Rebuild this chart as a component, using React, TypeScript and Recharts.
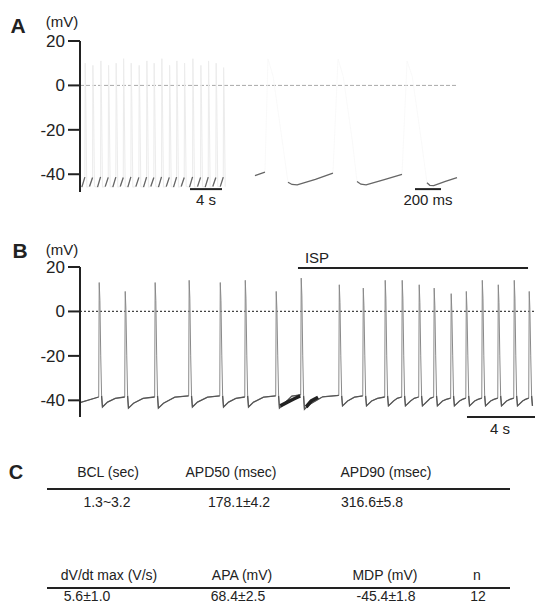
import React from 'react';
import { LineChart, Line, XAxis, YAxis, ReferenceLine } from 'recharts';

const FONT = '"Liberation Sans", Arial, Helvetica, sans-serif';
const Y_TICKS = [-40, -20, 0, 20];

// ---------- Panel A: compressed record (time in s) ----------
const aBeatStart = [0.23, 1.19, 2.19, 3.15, 4.1, 5.03, 5.98, 6.98, 7.94, 8.85, 9.81, 10.78, 11.69, 12.65, 13.69, 14.69, 15.65, 16.6, 17.53];
const aPeak = [10, 9, 11, 9, 10, 12, 10, 9, 11, 10, 12, 9, 11, 10, 12, 9, 11, 10, 8];
const aMdp = [-45.8, -45.5, -45.8, -45.6, -45.8, -45.5, -45.8, -45.6, -45.8, -45.5, -45.8, -45.6, -45.8, -45.5, -45.8, -45.6, -45.8, -45.5, -45.6];
const aTakeoff = [-41.3, -41.5, -41.2, -41.4, -41.3, -41.5, -41.2, -41.4, -41.3, -41.5, -41.2, -41.4, -41.3, -41.5, -41.2, -41.4, -41.3, -41.5, -41.3];
const A_XMAX = 56.875;
const aZeroEnd = 47.1;
const aScaleBar = [13.75, 17.75];

// ---------- Panel A inset: expanded record (time in ms) ----------
const aInsetSpikeT = [215, 754, 1285];
const aInsetPeak = [12, 12, 11];
const aInsetSegs: number[][][] = [
  [[115, -40.6], [192, -39.1]],
  [[369, -43.6], [400, -44.6], [440, -44.8], [580, -42.3], [715, -39.5]],
  [[900, -43.3], [930, -44.5], [970, -44.8], [1110, -42.4], [1246, -40.1]],
  [[1438, -43.8], [1460, -45.0], [1490, -45.1], [1580, -43.2], [1669, -41.5]],
];
const INSET_XMAX = 1769;
const insetScaleBar = [1346, 1546];

// ---------- Panel B (time in s) ----------
const bSpikeT = [1.12, 2.65, 4.41, 6.41, 8.24, 9.71, 11.53, 13.0, 15.24, 16.65, 17.94, 18.94, 19.94, 20.82, 21.82, 22.71, 23.65, 24.59, 25.53, 26.41];
const bPeak = [13, 9, 13, 14, 13, 14, 9, 15, 12, 10.5, 14, 14, 12, 10.5, 8, 9, 14, 12, 14, 9];
const bTrough = [-43, -43.5, -43.5, -43, -43, -43, -43.5, -44, -42.5, -42.5, -42.5, -42.5, -42.5, -42.5, -42.5, -42.5, -42.5, -42.5, -42.5, -42.5];
const bPre = [-38.5, -38.5, -38.5, -38, -38, -38.5, -38, -37.5, -37.8, -38, -38.5, -38.5, -38.5, -38.5, -39, -39, -39, -39, -39, -39];
const bStart = -41;
const bArtifact = [
  { t: 11.78, v: -42.5 }, { t: 12.2, v: -40.8 }, { t: 12.6, v: -39.3 }, { t: 12.95, v: -38 },
  { t: 12.96, v: null },
  { t: 13.3, v: -43 }, { t: 13.6, v: -40.3 }, { t: 14.0, v: -38.6 },
];
const B_XMAX = 26.76;
const ispBar = [12.82, 26.35];
const bScaleBar = [22.76, 26.76];

// ---------- Panel C ----------
const t1Headers = ['BCL (sec)', 'APD50 (msec)', 'APD90 (msec)'];
const t1Values = ['1.3~3.2', '178.1±4.2', '316.6±5.8'];
const t2Headers = ['dV/dt max (V/s)', 'APA (mV)', 'MDP (mV)', 'n'];
const t2Values = ['5.6±1.0', '68.4±2.5', '-45.4±1.8', '12'];

type P = { t: number; v: number | null };

function buildA() {
  const faint: P[] = [];
  const dark: P[] = [];
  aBeatStart.forEach((s, i) => {
    faint.push({ t: s, v: aMdp[i] });
    faint.push({ t: s + 0.38, v: aTakeoff[i] });
    faint.push({ t: s + 0.42, v: aPeak[i] });
    faint.push({ t: s + 0.5, v: -8 });
    faint.push({ t: s + 0.62, v: aMdp[i] });
    dark.push({ t: s, v: aMdp[i] });
    dark.push({ t: s + 0.38, v: aTakeoff[i] });
    dark.push({ t: s + 0.39, v: null });
  });
  return { faint, dark };
}

function buildInset() {
  const faint: P[] = [];
  const dark: P[] = [];
  aInsetSegs.forEach((seg, i) => {
    seg.forEach(([t, v]) => {
      faint.push({ t, v });
      dark.push({ t, v });
    });
    dark.push({ t: seg[seg.length - 1][0] + 1, v: null });
    if (i < aInsetSpikeT.length) {
      const T = aInsetSpikeT[i];
      faint.push({ t: T, v: aInsetPeak[i] });
      faint.push({ t: T + 40, v: 4 });
      faint.push({ t: T + 110, v: -25 });
    }
  });
  return { faint, dark };
}

function buildB() {
  const trace: P[] = [{ t: 0, v: bStart }];
  const dia: P[] = [{ t: 0, v: bStart }];
  bSpikeT.forEach((T, i) => {
    trace.push({ t: T - 0.02, v: bPre[i] });
    dia.push({ t: T - 0.02, v: bPre[i] });
    dia.push({ t: T - 0.01, v: null });
    trace.push({ t: T + 0.01, v: bPeak[i] });
    trace.push({ t: T + 0.05, v: bPeak[i] - 8 });
    trace.push({ t: T + 0.1, v: -20 });
    trace.push({ t: T + 0.15, v: -38 });
    trace.push({ t: T + 0.2, v: bTrough[i] });
    dia.push({ t: T + 0.15, v: -38 });
    dia.push({ t: T + 0.2, v: bTrough[i] });
    const next = i + 1 < bSpikeT.length ? bSpikeT[i + 1] : T + 1.0;
    const nextPre = i + 1 < bPre.length ? bPre[i + 1] : -39;
    const a = T + 0.5;
    const b = a + 0.45 * (next - 0.02 - a);
    [{ t: a, v: bTrough[i] + 2.2 }, { t: b, v: nextPre - 0.6 }].forEach((p) => {
      if (p.t < next - 0.02) {
        trace.push(p);
        dia.push(p);
      }
    });
  });
  const clip = (arr: P[]) => arr.filter((p) => p.t <= B_XMAX);
  return { trace: clip(trace), dia: clip(dia) };
}

const A = buildA();
const AI = buildInset();
const B = buildB();

const Txt = ({ x, y, size = 14, bold = false, children }: any) => (
  <div
    style={{
      position: 'absolute',
      left: x,
      top: y,
      transform: 'translate(-50%, -50%)',
      fontFamily: FONT,
      fontSize: size,
      fontWeight: bold ? 700 : 400,
      color: '#222',
      whiteSpace: 'nowrap',
      lineHeight: 1,
    }}
  >
    {children}
  </div>
);

const yAxisProps = {
  type: 'number' as const,
  ticks: Y_TICKS,
  width: 80,
  tickSize: 12,
  tickMargin: 3,
  interval: 0 as const,
  axisLine: { stroke: '#222', strokeWidth: 2 },
  tickLine: { stroke: '#222', strokeWidth: 2 },
  tick: { fontSize: 17, fill: '#222', fontFamily: FONT },
};

export default function App() {
  const t1HeadX = [108, 231, 386];
  const t1ValX = [107, 239, 372];
  const t2HeadX = [109, 242, 385, 477];
  const t2ValX = [87, 238, 386, 478];
  return (
    <div style={{ position: 'absolute', left: 0, top: 0, width: 540, height: 603, background: '#fff', overflow: 'hidden' }}>
      {/* Panel A */}
      <div style={{ position: 'absolute', left: 0, top: 0 }}>
        <LineChart width={540} height={220} margin={{ top: 41, right: 5, bottom: 28, left: 0 }}>
          <XAxis type="number" dataKey="t" domain={[0, A_XMAX]} hide />
          <YAxis {...yAxisProps} domain={[-48, 20]} />
          <ReferenceLine segment={[{ x: 0, y: 0 }, { x: aZeroEnd, y: 0 }]} stroke="#aaa" strokeDasharray="4 2" strokeWidth={1} />
          <Line data={A.faint} dataKey="v" stroke="#ececec" strokeWidth={1} dot={false} isAnimationActive={false} />
          <Line data={A.dark} dataKey="v" stroke="#666" strokeWidth={1.3} dot={false} connectNulls={false} isAnimationActive={false} />
          <ReferenceLine segment={[{ x: aScaleBar[0], y: -46.7 }, { x: aScaleBar[1], y: -46.7 }]} stroke="#222" strokeWidth={2} ifOverflow="visible" />
        </LineChart>
      </div>
      <div style={{ position: 'absolute', left: 240, top: 0 }}>
        <LineChart width={230} height={220} margin={{ top: 41, right: 0, bottom: 28, left: 0 }}>
          <XAxis type="number" dataKey="t" domain={[0, INSET_XMAX]} hide />
          <YAxis type="number" domain={[-48, 20]} hide />
          <Line data={AI.faint} dataKey="v" stroke="#f7f7f7" strokeWidth={0.8} dot={false} isAnimationActive={false} />
          <Line data={AI.dark} dataKey="v" stroke="#666" strokeWidth={1.3} dot={false} connectNulls={false} isAnimationActive={false} />
          <ReferenceLine segment={[{ x: insetScaleBar[0], y: -46.7 }, { x: insetScaleBar[1], y: -46.7 }]} stroke="#222" strokeWidth={2} ifOverflow="visible" />
        </LineChart>
      </div>
      <Txt x={18} y={25} size={21} bold>A</Txt>
      <Txt x={62} y={21} size={15}>(mV)</Txt>
      <Txt x={206} y={199} size={15}>4 s</Txt>
      <Txt x={428} y={199} size={15}>200 ms</Txt>

      {/* Panel B */}
      <div style={{ position: 'absolute', left: 0, top: 220 }}>
        <LineChart width={540} height={230} margin={{ top: 47, right: 5, bottom: 33, left: 0 }}>
          <XAxis type="number" dataKey="t" domain={[0, B_XMAX]} hide />
          <YAxis {...yAxisProps} domain={[-47.5, 20]} />
          <ReferenceLine y={0} stroke="#444" strokeDasharray="2 2" strokeWidth={1.2} />
          <Line data={B.trace} dataKey="v" stroke="#8a8a8a" strokeWidth={1} dot={false} isAnimationActive={false} />
          <Line data={B.dia} dataKey="v" stroke="#555" strokeWidth={1.3} dot={false} connectNulls={false} isAnimationActive={false} />
          <Line data={bArtifact} dataKey="v" stroke="#222" strokeWidth={3.5} dot={false} connectNulls={false} isAnimationActive={false} />
          <ReferenceLine segment={[{ x: ispBar[0], y: 19.5 }, { x: ispBar[1], y: 19.5 }]} stroke="#222" strokeWidth={2} ifOverflow="visible" />
          <ReferenceLine segment={[{ x: bScaleBar[0], y: -47.5 }, { x: bScaleBar[1], y: -47.5 }]} stroke="#222" strokeWidth={2} ifOverflow="visible" />
        </LineChart>
      </div>
      <Txt x={20} y={250} size={21} bold>B</Txt>
      <Txt x={62} y={249} size={15}>(mV)</Txt>
      <Txt x={317} y={257} size={15}>ISP</Txt>
      <Txt x={500} y={428} size={15}>4 s</Txt>

      {/* Panel C */}
      <Txt x={16} y={472} size={20} bold>C</Txt>
      {t1Headers.map((h, i) => (
        <Txt key={'h1' + i} x={t1HeadX[i]} y={472} size={14}>{h}</Txt>
      ))}
      <div style={{ position: 'absolute', left: 47, top: 488, width: 463, height: 1.5, background: '#222' }} />
      {t1Values.map((h, i) => (
        <Txt key={'v1' + i} x={t1ValX[i]} y={502} size={14}>{h}</Txt>
      ))}
      {t2Headers.map((h, i) => (
        <Txt key={'h2' + i} x={t2HeadX[i]} y={575} size={14}>{h}</Txt>
      ))}
      <div style={{ position: 'absolute', left: 47, top: 587, width: 463, height: 1.5, background: '#222' }} />
      {t2Values.map((h, i) => (
        <Txt key={'v2' + i} x={t2ValX[i]} y={596} size={14}>{h}</Txt>
      ))}
    </div>
  );
}
